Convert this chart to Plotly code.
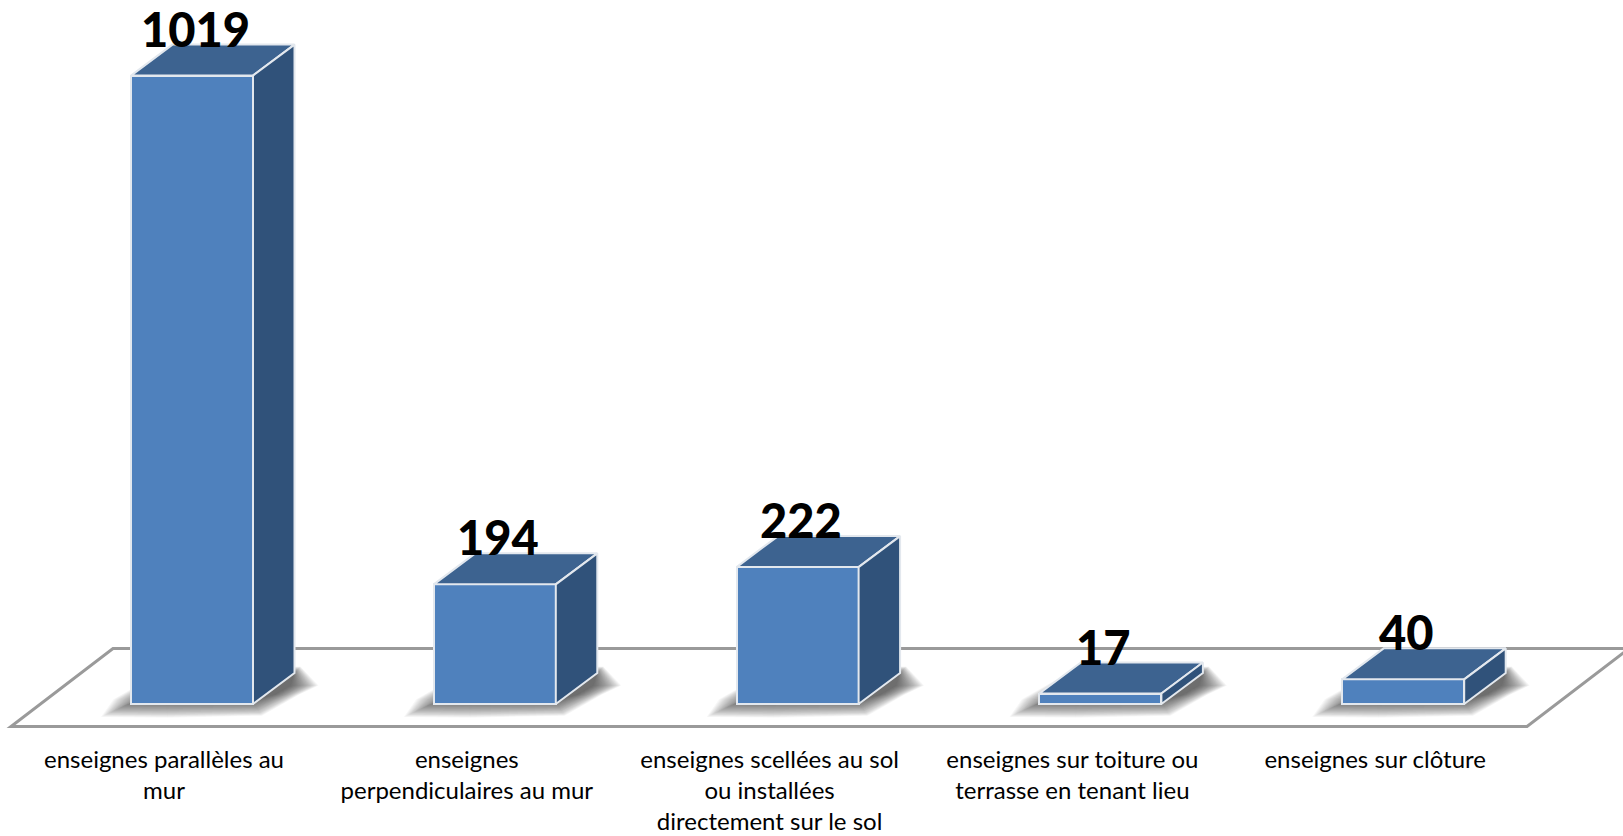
import plotly.graph_objects as go

categories = [
    "enseignes parallèles au<br>mur",
    "enseignes<br>perpendiculaires au mur",
    "enseignes scellées au sol<br>ou installées<br>directement sur le sol",
    "enseignes sur toiture ou<br>terrasse en tenant lieu",
    "enseignes sur clôture",
]
values = [1019, 194, 222, 17, 40]

FRONT = "#4F81BD"
TOP = "#3D6390"
SIDE = "#30527A"
EDGE = "#E3E8EE"
FLOOR = "#9A9A9A"

W, H = 1623, 836
PITCH = 302.8
X0_PX = 192.0
Y0_PX = 704.0
PX_PER_UNIT = 0.6167
BOTTOM_PX = 735
BAR_W = 122 / PITCH
DX = 41.5 / PITCH
DY = 31 / PX_PER_UNIT
LABEL_SHIFT = 28 / PITCH

xr = [-X0_PX / PITCH, (W - X0_PX) / PITCH]
yr = [(Y0_PX - BOTTOM_PX) / PX_PER_UNIT, Y0_PX / PX_PER_UNIT]
px_x = 1 / PITCH
px_y = 1 / PX_PER_UNIT


def path(points):
    return "M" + " L".join(f"{x:.4f},{y:.3f}" for x, y in points) + " Z"


shapes = []
# floor plane
fl, fr = -181 / PITCH, 1335 / PITCH
fd = 102 / PITCH
fy0, fy1 = -22.5 * px_y, 55.5 * px_y
shapes.append(dict(type="path", layer="below", xref="x", yref="y",
                   path=path([(fl, fy0), (fr, fy0), (fr + fd, fy1), (fl + fd, fy1)]),
                   line=dict(color=FLOOR, width=3), fillcolor="rgba(255,255,255,0)"))

# soft shadows on the floor
LAYERS = 30
for i, v in enumerate(values):
    x0, x1 = i - BAR_W / 2, i + BAR_W / 2
    for k in range(LAYERS, 0, -1):
        g = k / LAYERS
        ex = (-6 + 36 * g) * px_x
        ey = (-4 + 17 * g) * px_y
        pts = [
            (x0 - ex, -ey),
            (x0 + 0.3 * (x1 - x0), -ey * 1.05),
            (x1 + ex * 0.3, -ey * 0.9),
            (x1 + DX * 0.6 + ex * 0.7, DY * 0.3),
            (x1 + DX + ex * 0.8, DY * 0.6),
            (x1 + DX + ex * 0.2, DY + ey * 0.5),
            (x0 + DX - ex * 0.2, DY + ey * 0.3),
            (x0 + DX * 0.3 - ex, DY * 0.15),
        ]
        shapes.append(dict(type="path", layer="below", xref="x", yref="y", path=path(pts),
                           line=dict(width=0), fillcolor="rgba(30,30,30,0.032)"))

fig = go.Figure()

# front faces
fig.add_trace(go.Bar(x=list(range(len(values))), y=values, width=BAR_W,
                     marker=dict(color=FRONT, line=dict(color=EDGE, width=2)),
                     hoverinfo="skip", showlegend=False))

# top and side faces derived from the values
for i, v in enumerate(values):
    x0, x1 = i - BAR_W / 2, i + BAR_W / 2
    top = [(x0, v), (x1, v), (x1 + DX, v + DY), (x0 + DX, v + DY), (x0, v)]
    side = [(x1, 0), (x1 + DX, DY), (x1 + DX, v + DY), (x1, v), (x1, 0)]
    for poly, col in ((top, TOP), (side, SIDE)):
        fig.add_trace(go.Scatter(x=[p[0] for p in poly], y=[p[1] for p in poly],
                                 mode="lines", fill="toself", fillcolor=col,
                                 line=dict(color=EDGE, width=2), hoverinfo="skip",
                                 showlegend=False))

annotations = [
    dict(x=i, y=v, xref="x", yref="y", text=str(v), showarrow=False,
         xshift=3, yshift=47, yanchor="middle",
         font=dict(family="Lato", size=47, color="#000000", weight=900))
    for i, v in enumerate(values)
]

fig.update_layout(
    width=W, height=H,
    margin=dict(l=0, r=0, t=0, b=H - BOTTOM_PX, autoexpand=False),
    paper_bgcolor="white", plot_bgcolor="rgba(0,0,0,0)",
    shapes=shapes, annotations=annotations, showlegend=False, bargap=0,
    xaxis=dict(range=xr, automargin=False, showgrid=False, zeroline=False, showline=False,
               ticks="", tickmode="array",
               tickvals=[i - LABEL_SHIFT for i in range(len(categories))],
               ticktext=categories, tickangle=0, ticklabelstandoff=8,
               tickfont=dict(family="Lato", size=24, color="#000000")),
    yaxis=dict(range=yr, visible=False, automargin=False, showgrid=False, zeroline=False),
)

fig.write_html("out.html", post_script="document.body.style.margin='0';",
               config=dict(displayModeBar=False))
